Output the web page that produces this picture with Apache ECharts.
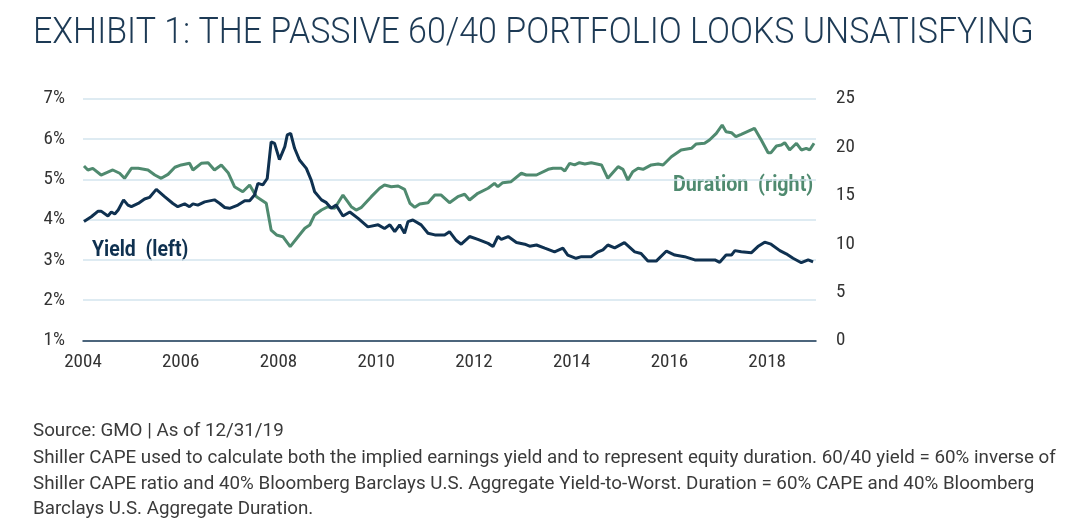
<!DOCTYPE html>
<html>
<head>
<meta charset="utf-8">
<script src="https://cdn.jsdelivr.net/npm/echarts@6/dist/echarts.min.js"></script>
<style>
html,body{margin:0;padding:0;background:#fff;}
#chart{width:1076px;height:531px;}
</style>
</head>
<body>
<div id="chart"></div>
<script>
// ---- data ----
const yieldYears = [2004.02,2004.17,2004.31,2004.37,2004.51,2004.58,2004.65,2004.72,2004.83,2004.92,2004.99,2005.13,2005.26,2005.36,2005.50,2005.67,2005.84,2005.94,2006.08,2006.18,2006.25,2006.35,2006.49,2006.69,2006.80,2006.90,2007.00,2007.17,2007.31,2007.41,2007.51,2007.58,2007.68,2007.77,2007.85,2007.92,2008.02,2008.13,2008.18,2008.25,2008.33,2008.43,2008.57,2008.67,2008.74,2008.88,2008.98,2009.08,2009.18,2009.32,2009.46,2009.63,2009.83,2010.04,2010.17,2010.28,2010.38,2010.48,2010.58,2010.65,2010.75,2010.92,2011.06,2011.20,2011.40,2011.50,2011.64,2011.74,2011.91,2012.08,2012.29,2012.39,2012.49,2012.56,2012.70,2012.87,2013.04,2013.14,2013.28,2013.45,2013.65,2013.82,2013.92,2014.09,2014.20,2014.40,2014.54,2014.64,2014.74,2014.88,2015.08,2015.29,2015.42,2015.56,2015.73,2015.94,2016.11,2016.31,2016.52,2016.72,2016.93,2017.03,2017.16,2017.27,2017.34,2017.47,2017.68,2017.81,2017.95,2018.08,2018.26,2018.39,2018.53,2018.70,2018.84,2018.94];
const yieldValues = [3.95,4.07,4.21,4.21,4.09,4.19,4.14,4.24,4.49,4.36,4.32,4.40,4.51,4.55,4.75,4.57,4.40,4.32,4.39,4.32,4.39,4.36,4.44,4.49,4.40,4.30,4.28,4.36,4.47,4.47,4.61,4.90,4.86,5.02,5.93,5.89,5.49,5.81,6.10,6.14,5.77,5.48,5.27,4.98,4.69,4.49,4.42,4.28,4.36,4.09,4.19,4.03,3.82,3.87,3.78,3.87,3.70,3.87,3.66,3.95,3.99,3.87,3.66,3.62,3.62,3.70,3.48,3.39,3.58,3.51,3.41,3.33,3.58,3.51,3.58,3.43,3.39,3.34,3.37,3.29,3.20,3.29,3.12,3.04,3.08,3.08,3.20,3.25,3.37,3.30,3.43,3.20,3.16,2.97,2.97,3.22,3.12,3.08,3.00,3.00,3.00,2.94,3.12,3.12,3.23,3.20,3.18,3.33,3.44,3.39,3.23,3.15,3.04,2.93,3.00,2.95];

const durationYears = [2004.02,2004.10,2004.20,2004.37,2004.61,2004.75,2004.85,2004.99,2005.13,2005.33,2005.47,2005.60,2005.74,2005.88,2006.01,2006.18,2006.25,2006.42,2006.56,2006.69,2006.83,2006.97,2007.10,2007.27,2007.41,2007.55,2007.65,2007.75,2007.85,2007.96,2008.09,2008.24,2008.40,2008.54,2008.64,2008.74,2008.88,2009.01,2009.15,2009.32,2009.49,2009.59,2009.69,2009.90,2010.07,2010.17,2010.31,2010.45,2010.58,2010.69,2010.79,2010.89,2011.06,2011.20,2011.33,2011.50,2011.67,2011.81,2011.91,2012.08,2012.29,2012.42,2012.49,2012.59,2012.76,2012.97,2013.07,2013.28,2013.52,2013.62,2013.79,2013.86,2013.96,2014.06,2014.16,2014.27,2014.40,2014.61,2014.74,2014.95,2015.05,2015.15,2015.25,2015.36,2015.46,2015.63,2015.77,2015.87,2016.04,2016.24,2016.45,2016.55,2016.72,2016.82,2016.96,2017.08,2017.16,2017.27,2017.36,2017.47,2017.74,2017.88,2018.02,2018.08,2018.19,2018.29,2018.36,2018.46,2018.60,2018.70,2018.80,2018.87,2018.96];
const durationValues = [18.04,17.63,17.80,17.11,17.63,17.29,16.77,17.80,17.80,17.63,17.11,16.77,17.18,17.91,18.15,18.32,17.63,18.32,18.38,17.63,18.15,17.35,15.90,15.38,16.08,14.87,14.53,14.19,11.42,10.91,10.73,9.70,10.73,11.60,11.94,12.98,13.49,13.83,13.67,15.04,13.83,13.49,13.73,14.87,15.74,16.08,15.90,15.97,15.63,14.19,13.77,14.11,14.25,15.04,15.04,14.25,14.87,15.12,14.53,15.22,15.74,16.25,15.90,16.32,16.42,17.29,17.11,17.11,17.70,17.80,17.80,17.52,18.32,18.15,18.38,18.25,18.38,18.15,16.77,17.97,17.70,16.59,17.45,17.80,17.70,18.15,18.25,18.15,19.00,19.70,19.87,20.32,20.39,20.73,21.42,22.28,21.59,21.49,21.07,21.32,21.94,20.73,19.42,19.42,20.11,20.21,20.45,19.70,20.39,19.70,19.87,19.70,20.39];

const titleText = 'EXHIBIT 1: THE PASSIVE 60/40 PORTFOLIO LOOKS UNSATISFYING';
const yieldLabel = 'Yield  (left)';
const durationLabel = 'Duration  (right)';
const footnoteLines = [
  'Source: GMO | As of 12/31/19',
  'Shiller CAPE used to calculate both the implied earnings yield and to represent equity duration. 60/40 yield = 60% inverse of',
  'Shiller CAPE ratio and 40% Bloomberg Barclays U.S. Aggregate Yield-to-Worst. Duration = 60% CAPE and 40% Bloomberg',
  'Barclays U.S. Aggregate Duration.'
];

const NAVY = '#0f3150';
const GREEN = '#4f8a6f';
const GRID = '#d3e4ee';
const AXISTXT = '#333333';
const FONT = "'Roboto Condensed','Liberation Sans Narrow','Arial Narrow',Roboto,sans-serif";

const yieldData = yieldYears.map((x, i) => [x, yieldValues[i]]);
const durationData = durationYears.map((x, i) => [x, durationValues[i]]);

const chart = echarts.init(document.getElementById('chart'), null, {renderer: 'canvas'});

function txt(text, x, y, size, color, weight, sx) {
  return {
    type: 'text', x: x, y: y, scaleX: sx, scaleY: 1, silent: true,
    style: {text: text, fill: color, fontSize: size, fontWeight: weight,
            fontFamily: 'Roboto', verticalAlign: 'middle', align: 'left'}
  };
}

const graphics = [
  txt(titleText, 33, 34, 37, '#1d3a55', 300, 0.918),
  txt(yieldLabel, 92, 250, 22, NAVY, 'bold', 0.885),
  txt(durationLabel, 673, 185, 22, GREEN, 'bold', 0.895)
];
const fy = [431, 458, 484, 509];
footnoteLines.forEach((l, i) => graphics.push(txt(l, 33, fy[i], 18.5, '#3a3a3a', 'normal', 1.015)));

chart.setOption({
  backgroundColor: '#ffffff',
  animation: false,
  grid: {left: 83, right: 260, top: 98.7, bottom: 190.5, containLabel: false},
  xAxis: {
    type: 'value', min: 2004, max: 2019, interval: 2,
    axisLine: {show: true, lineStyle: {color: '#1c3a55', width: 1.5}},
    axisTick: {show: false},
    splitLine: {show: false},
    axisLabel: {
      showMaxLabel: false, margin: 12, color: AXISTXT, fontSize: 19, fontFamily: FONT,
      formatter: v => String(v)
    }
  },
  yAxis: [
    {
      type: 'value', min: 1, max: 7, interval: 1, position: 'left',
      axisLine: {show: false}, axisTick: {show: false},
      splitLine: {show: true, lineStyle: {color: GRID, width: 1.5}},
      axisLabel: {color: AXISTXT, fontSize: 19, fontFamily: FONT, margin: 18, formatter: '{value}%'}
    },
    {
      type: 'value', min: 0, max: 25, interval: 5, position: 'right',
      axisLine: {show: false}, axisTick: {show: false},
      splitLine: {show: false},
      axisLabel: {color: AXISTXT, fontSize: 19, fontFamily: FONT, margin: 20}
    }
  ],
  series: [
    {
      name: 'Duration (right)', type: 'line', yAxisIndex: 1, data: durationData,
      showSymbol: false, lineStyle: {color: GREEN, width: 3}, z: 3
    },
    {
      name: 'Yield (left)', type: 'line', yAxisIndex: 0, data: yieldData,
      showSymbol: false, lineStyle: {color: NAVY, width: 3}, z: 4
    }
  ],
  graphic: graphics
});
</script>
</body>
</html>
